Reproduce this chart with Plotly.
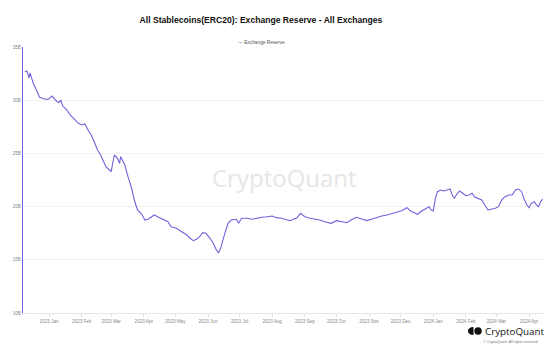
import plotly.graph_objects as go

# Exchange reserve of ERC20 stablecoins across all exchanges (billions USD)
dates = [
    "2022-12-09", "2022-12-11", "2022-12-13", "2022-12-14", "2022-12-15", "2022-12-17",
    "2022-12-20", "2022-12-23", "2022-12-28", "2022-12-31", "2023-01-04", "2023-01-07",
    "2023-01-10", "2023-01-12", "2023-01-14", "2023-01-18", "2023-01-21", "2023-01-24",
    "2023-01-26", "2023-01-29", "2023-02-01", "2023-02-04", "2023-02-07", "2023-02-10",
    "2023-02-13", "2023-02-16", "2023-02-19", "2023-02-21", "2023-02-24", "2023-03-01",
    "2023-03-04", "2023-03-07", "2023-03-09", "2023-03-10", "2023-03-14", "2023-03-17",
    "2023-03-20", "2023-03-23", "2023-03-26", "2023-03-30", "2023-04-02", "2023-04-05",
    "2023-04-08", "2023-04-11", "2023-04-15", "2023-04-19", "2023-04-24", "2023-04-27",
    "2023-05-02", "2023-05-07", "2023-05-12", "2023-05-15", "2023-05-18", "2023-05-21",
    "2023-05-24", "2023-05-27", "2023-05-30", "2023-06-03", "2023-06-06", "2023-06-09",
    "2023-06-11", "2023-06-13", "2023-06-15", "2023-06-17", "2023-06-20", "2023-06-23",
    "2023-06-28", "2023-06-30", "2023-07-03", "2023-07-08", "2023-07-13", "2023-07-17",
    "2023-07-22", "2023-07-27", "2023-08-01", "2023-08-05", "2023-08-10", "2023-08-15",
    "2023-08-18", "2023-08-21", "2023-08-24", "2023-08-28", "2023-09-01", "2023-09-06",
    "2023-09-10", "2023-09-15", "2023-09-20", "2023-09-26", "2023-10-01", "2023-10-06",
    "2023-10-11", "2023-10-16", "2023-10-20", "2023-10-25", "2023-10-30", "2023-11-04",
    "2023-11-09", "2023-11-13", "2023-11-18", "2023-11-23", "2023-11-28", "2023-12-02",
    "2023-12-07", "2023-12-10", "2023-12-13", "2023-12-17", "2023-12-21", "2023-12-26",
    "2023-12-28", "2023-12-30", "2024-01-01", "2024-01-03", "2024-01-05", "2024-01-08",
    "2024-01-11", "2024-01-14", "2024-01-17", "2024-01-19", "2024-01-21", "2024-01-24",
    "2024-01-26", "2024-01-29", "2024-02-01", "2024-02-04", "2024-02-07", "2024-02-09",
    "2024-02-13", "2024-02-16", "2024-02-19", "2024-02-22", "2024-02-25", "2024-02-29",
    "2024-03-03", "2024-03-06", "2024-03-09", "2024-03-13", "2024-03-16", "2024-03-19",
    "2024-03-22", "2024-03-25", "2024-03-27", "2024-03-30", "2024-04-01", "2024-04-03",
    "2024-04-06", "2024-04-08", "2024-04-10", "2024-04-12", "2024-04-14",
]
reserve_billions = [
    32.68, 32.74, 32.09, 32.56, 32.21, 31.59,
    30.96, 30.27, 30.11, 30.08, 30.39, 30.02,
    29.77, 30.02, 29.45, 29.08, 28.61, 28.30,
    28.14, 27.83, 27.67, 27.76, 27.20, 26.73,
    26.10, 25.32, 24.85, 24.38, 23.75, 23.28,
    24.85, 24.54, 24.07, 24.69, 23.91, 22.81,
    21.87, 20.62, 19.68, 19.30, 18.74, 18.81,
    19.05, 19.21, 18.99, 18.81, 18.58, 18.11,
    17.96, 17.64, 17.33, 17.02, 16.80, 16.93,
    17.17, 17.55, 17.49, 17.02, 16.55, 15.92,
    15.67, 16.08, 16.86, 17.49, 18.43, 18.74,
    18.81, 18.43, 18.90, 18.90, 18.81, 18.90,
    19.00, 19.05, 19.12, 18.96, 18.90, 18.74,
    18.68, 18.81, 18.90, 19.37, 19.05, 18.90,
    18.83, 18.74, 18.58, 18.43, 18.68, 18.58,
    18.49, 18.81, 19.00, 18.83, 18.68, 18.83,
    19.00, 19.12, 19.21, 19.37, 19.52, 19.61,
    19.90, 19.61, 19.47, 19.28, 19.59, 19.84,
    19.99, 19.68, 19.59, 20.78, 21.40, 21.56,
    21.47, 21.56, 21.65, 21.09, 20.78, 21.25,
    21.47, 21.25, 21.02, 21.09, 21.25, 20.93,
    20.78, 20.62, 20.15, 19.68, 19.75, 19.84,
    19.99, 20.62, 20.93, 21.09, 21.09, 21.56,
    21.65, 21.40, 20.78, 20.15, 19.90, 20.31,
    20.46, 20.15, 19.99, 20.46, 20.71,
]
y_ticks = [10, 15, 20, 25, 30, 35]
y_tick_labels = ["10B", "15B", "20B", "25B", "30B", "35B"]

LINE = "#6f63db"
W, H = 554, 349
L, R, T, B = 23, 10, 47, 36
PW, PH = W - L - R, H - T - B


def px(x):
    return (x - L) / PW


def py(y):
    return (H - B - y) / PH


fig = go.Figure()
fig.add_trace(go.Scatter(
    x=dates, y=reserve_billions, mode="lines",
    line=dict(color=LINE, width=1.1), name="Exchange Reserve", showlegend=False,
))

fig.update_layout(
    width=W, height=H,
    margin=dict(l=L, r=R, t=T, b=B),
    paper_bgcolor="white", plot_bgcolor="white",
    font=dict(family="Liberation Sans, Arial", color="#777"),
    title=dict(
        text="<b>All Stablecoins(ERC20): Exchange Reserve - All Exchanges</b>",
        x=261 / W, xanchor="center", xref="container",
        y=1 - 20 / H, yanchor="middle", yref="container",
        font=dict(size=8.6, color="#111", family="Liberation Sans, Arial"),
    ),
    xaxis=dict(
        range=["2022-12-07 06:00", "2024-04-15 05:00"],
        tick0="2023-01-01", dtick="M1", tickformat="%Y %b",
        showgrid=False, showline=True, linecolor="#e6e6e6", linewidth=1,
        ticks="outside", ticklen=3, tickcolor="#e0e0e0",
        tickfont=dict(size=4.6, color="#888"), zeroline=False,
    ),
    yaxis=dict(
        range=[10, 35], tickvals=y_ticks, ticktext=y_tick_labels,
        showgrid=True, gridcolor="#f2f2f2", gridwidth=1,
        showline=True, linecolor=LINE, linewidth=1.3,
        tickfont=dict(size=4.6, color="#888"), zeroline=False, ticks="",
    ),
    annotations=[
        # legend entry
        dict(x=px(261), y=py(38), xref="paper", yref="paper", showarrow=False,
             text=f"<span style='color:{LINE}'>—</span> Exchange Reserve",
             font=dict(size=4.8, color="#555")),
        # watermark
        dict(x=px(284), y=py(178), xref="paper", yref="paper", showarrow=False,
             text="CryptoQuant", font=dict(size=24, color="#e6e6e6", family="Open Sans")),
        # brand mark
        dict(x=px(483), y=py(331), xref="paper", yref="paper", showarrow=False,
             xanchor="left", yanchor="middle", text="CryptoQuant",
             font=dict(size=9.8, color="#111", family="Open Sans")),
        dict(x=px(541), y=py(342), xref="paper", yref="paper", showarrow=False,
             xanchor="right", yanchor="middle",
             text="© CryptoQuant. All rights reserved.",
             font=dict(size=3.6, color="#777")),
    ],
    shapes=[
        # logo: left half disc + full disc
        dict(type="path", xref="paper", yref="paper",
             path=(f"M {px(473.5)},{py(327)} "
                   f"Q {px(468)},{py(327.3)} {px(468)},{py(331)} "
                   f"Q {px(468)},{py(334.7)} {px(473.5)},{py(335)} Z"),
             fillcolor="#111", line=dict(width=0)),
        dict(type="circle", xref="paper", yref="paper",
             x0=px(474.3), x1=px(481.8), y0=py(334.8), y1=py(327.2),
             fillcolor="#111", line=dict(width=0)),
    ],
)

fig.write_html("out.html")
